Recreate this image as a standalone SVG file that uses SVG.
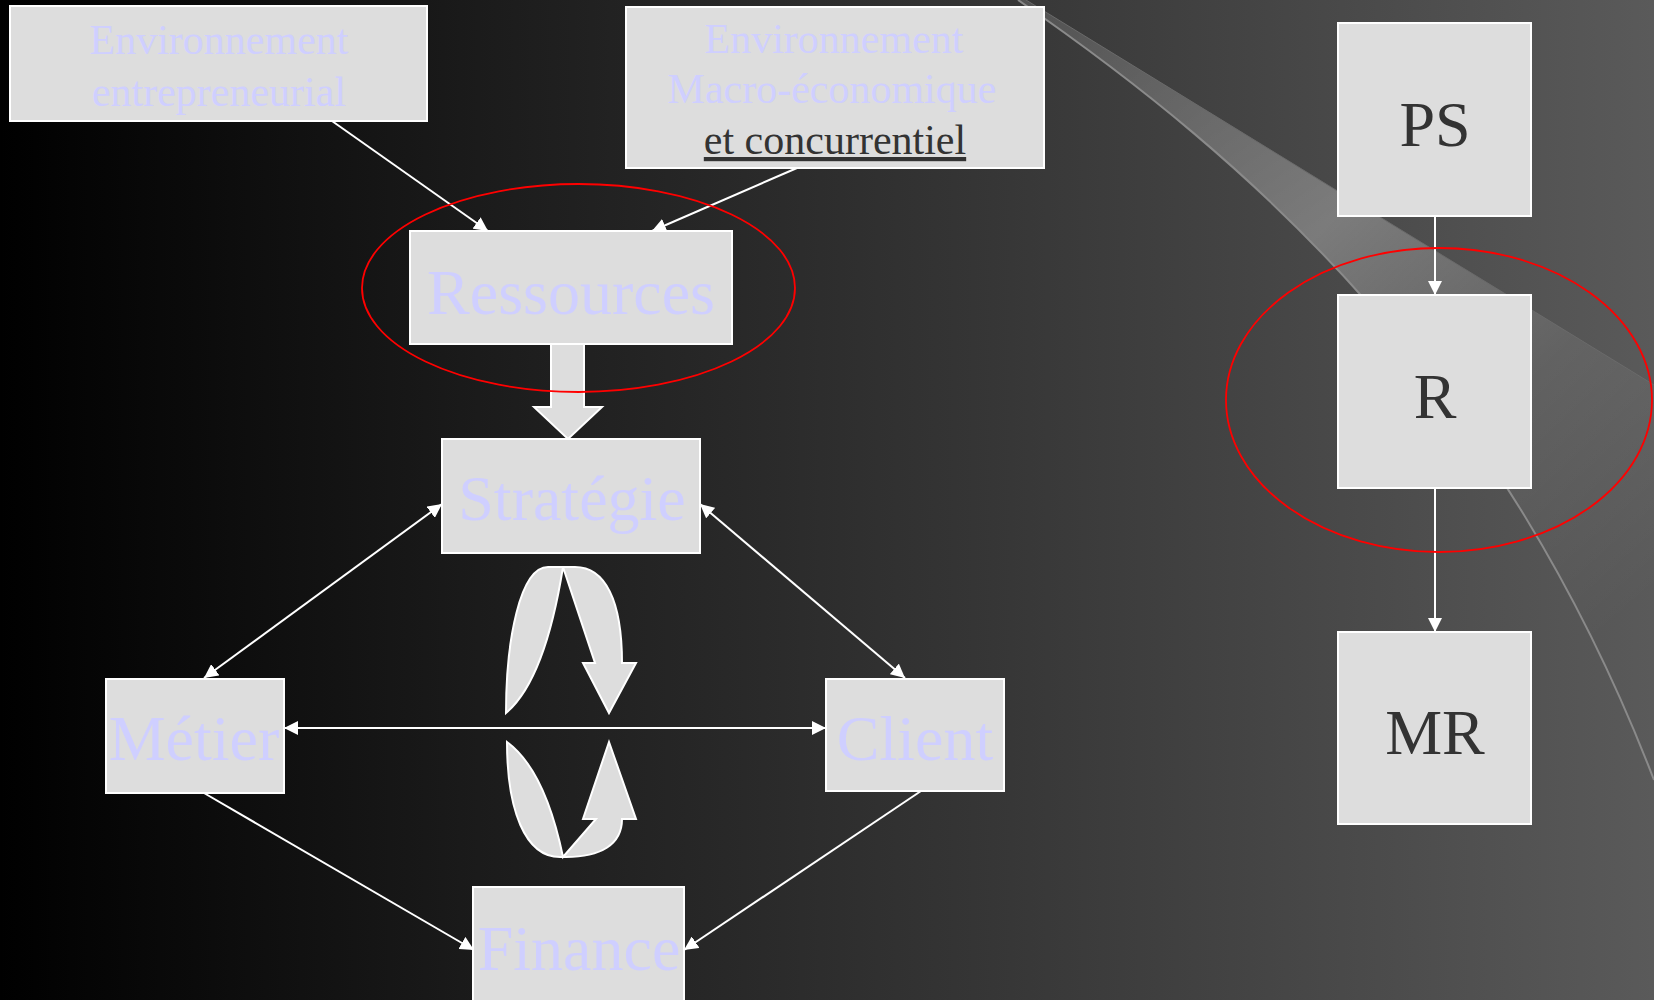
<svg xmlns="http://www.w3.org/2000/svg" width="1654" height="1000" viewBox="0 0 1654 1000">
  <defs>
    <linearGradient id="bg" x1="0" y1="0" x2="1" y2="0">
      <stop offset="0" stop-color="#000000"/>
      <stop offset="0.3" stop-color="#1c1c1c"/>
      <stop offset="0.6" stop-color="#363636"/>
      <stop offset="1" stop-color="#5a5a5a"/>
    </linearGradient>
    <linearGradient id="swoosh" x1="1060" y1="20" x2="1600" y2="640" gradientUnits="userSpaceOnUse">
      <stop offset="0" stop-color="#ffffff" stop-opacity="0.14"/>
      <stop offset="0.4" stop-color="#ffffff" stop-opacity="0.28"/>
      <stop offset="0.7" stop-color="#ffffff" stop-opacity="0.08"/>
      <stop offset="1" stop-color="#ffffff" stop-opacity="0"/>
    </linearGradient>
    <marker id="head" viewBox="0 0 14 14" refX="14" refY="7" markerWidth="14" markerHeight="14" markerUnits="userSpaceOnUse" orient="auto-start-reverse">
      <path d="M0,0 L14,7 L0,14 z" fill="#ffffff"/>
    </marker>
  </defs>
  <style>
    .box { fill: #dddddd; stroke: #ffffff; stroke-width: 2; }
    .lbl { font-family: "Liberation Serif", "Times New Roman", serif; fill: #cfcfff; text-anchor: middle; }
    .dark { font-family: "Liberation Serif", "Times New Roman", serif; fill: #333333; text-anchor: middle; }
    .big { font-size: 64px; }
    .small { font-size: 42px; }
    .link { stroke: #ffffff; stroke-width: 2; fill: none; }
    .one { marker-end: url(#head); }
    .two { marker-start: url(#head); marker-end: url(#head); }
    .shape { fill: #dddddd; stroke: #ffffff; stroke-width: 2; stroke-linejoin: miter; }
    .ring { fill: none; stroke: #ff0000; stroke-width: 1.8; }
  </style>

  <!-- backdrop -->
  <rect x="0" y="0" width="1654" height="1000" fill="url(#bg)"/>
  <g id="backdrop-swoosh">
    <path d="M1018,0 L1026,0 L1654,385 L1654,780 C1500,380 1250,160 1018,0 Z" fill="url(#swoosh)"/>
    <path d="M1018,0 C1250,160 1500,380 1654,780" fill="none" stroke="#8a8a8a" stroke-width="2"/>
    <path d="M1026,0 L1654,385" fill="none" stroke="#6a6a6a" stroke-width="1"/>
  </g>

  <!-- connectors -->
  <g id="connectors">
    <line class="link one" x1="332" y1="121" x2="488" y2="231"/>
    <line class="link one" x1="797" y1="168" x2="652" y2="231"/>
    <path class="shape" d="M551,344 L584,344 L584,407 L602,407 L568,439 L534,407 L551,407 Z"/>
    <line class="link two" x1="442" y1="504" x2="204" y2="678"/>
    <line class="link two" x1="700" y1="504" x2="905" y2="678"/>
    <line class="link two" x1="284" y1="728" x2="826" y2="728"/>
    <line class="link one" x1="204" y1="793" x2="474" y2="950"/>
    <line class="link one" x1="921" y1="791" x2="684" y2="950"/>
    <path class="shape" d="M506,713 C506,640 520,567 548,567 L575,567 C605,567 622,600 622,663 L636,663 L609,713 L583,663 L595,663 L563,567 Q545,680 506,713 Z"/>
    <path class="shape" d="M507,742 C507,810 525,857 560,857 L566,857 C600,857 622,845 622,819 L636,819 L609,742 L583,819 L596,819 L563,857 Q545,770 507,742 Z"/>
    <line class="link one" x1="1435" y1="216" x2="1435" y2="295"/>
    <line class="link one" x1="1435" y1="488" x2="1435" y2="632"/>
  </g>

  <!-- nodes -->
  <g id="env-entrepreneurial">
    <rect class="box" x="10" y="6" width="417" height="115"/>
    <text class="lbl small" x="219" y="54">Environnement</text>
    <text class="lbl small" x="219" y="106">entrepreneurial</text>
  </g>
  <g id="env-macro">
    <rect class="box" x="626" y="7" width="418" height="161"/>
    <text class="lbl small" x="834" y="53">Environnement</text>
    <text class="lbl small" x="832" y="103">Macro-économique</text>
    <text class="dark small" x="835" y="154" text-decoration="underline">et concurrentiel</text>
  </g>
  <g id="ressources">
    <rect class="box" x="410" y="231" width="322" height="113"/>
    <text class="lbl big" x="571" y="314">Ressources</text>
  </g>
  <g id="strategie">
    <rect class="box" x="442" y="439" width="258" height="114"/>
    <text class="lbl big" x="572" y="520">Stratégie</text>
  </g>
  <g id="metier">
    <rect class="box" x="106" y="679" width="178" height="114"/>
    <text class="lbl big" x="194" y="760">Métier</text>
  </g>
  <g id="client">
    <rect class="box" x="826" y="679" width="178" height="112"/>
    <text class="lbl big" x="915" y="760">Client</text>
  </g>
  <g id="finance">
    <rect class="box" x="473" y="887" width="211" height="120"/>
    <text class="lbl big" x="579" y="970">Finance</text>
  </g>
  <g id="ps">
    <rect class="box" x="1338" y="23" width="193" height="193"/>
    <text class="dark big" x="1435" y="146">PS</text>
  </g>
  <g id="r">
    <rect class="box" x="1338" y="295" width="193" height="193"/>
    <text class="dark big" x="1435" y="418">R</text>
  </g>
  <g id="mr">
    <rect class="box" x="1338" y="632" width="193" height="192"/>
    <text class="dark big" x="1435" y="754">MR</text>
  </g>

  <!-- highlight rings -->
  <g id="highlights">
    <ellipse class="ring" cx="578.5" cy="288" rx="216.5" ry="104"/>
    <ellipse class="ring" cx="1439" cy="400" rx="213" ry="152"/>
  </g>
</svg>
